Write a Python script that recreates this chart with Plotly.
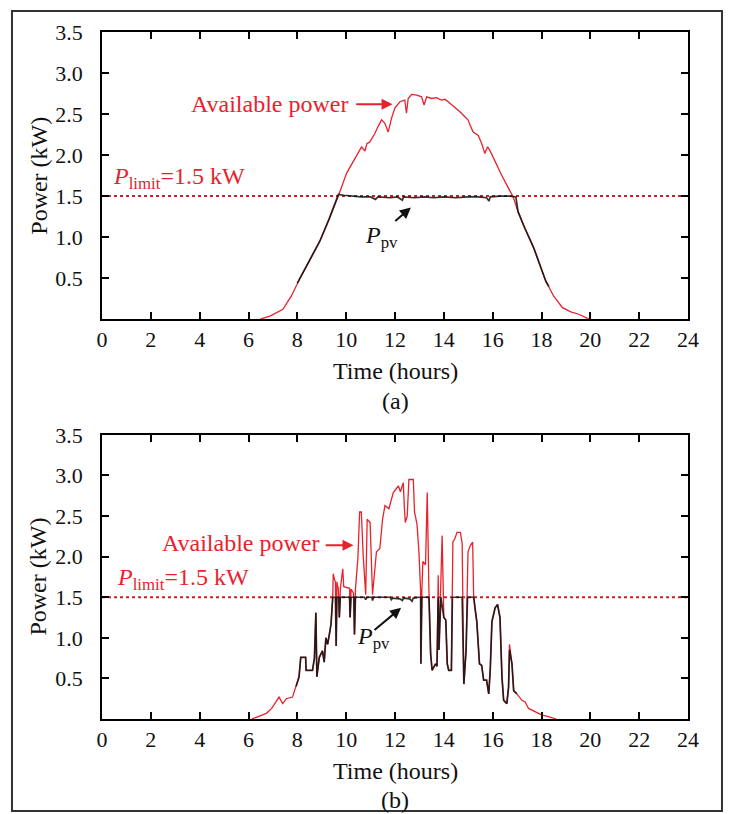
import plotly.graph_objects as go

# ---------------- data ----------------
limit_kw = 1.5
x_ticks = [0, 2, 4, 6, 8, 10, 12, 14, 16, 18, 20, 22, 24]
y_ticks = [0.5, 1.0, 1.5, 2.0, 2.5, 3.0, 3.5]

# (a) clear day
a_avail_h = [6.48, 6.9, 7.41, 7.75, 8.08, 8.5, 8.92, 9.3, 9.68, 10.02, 10.36, 10.63, 10.77, 10.85,
             10.97, 11.17, 11.31, 11.45, 11.58, 11.72, 11.86, 11.99, 12.2, 12.4, 12.47, 12.54,
             12.68, 12.89, 13.09, 13.19, 13.3, 13.5, 13.7, 13.9, 14.05, 14.17, 14.44, 14.65,
             14.85, 14.99, 15.07, 15.2, 15.41, 15.55, 15.68, 15.79, 15.88, 16.09, 16.36, 16.64,
             16.84, 17.04, 17.3, 17.68, 17.9, 18.18, 18.5, 18.86, 19.2, 19.53, 19.95]
a_avail_kw = [0, 0.04, 0.12, 0.28, 0.48, 0.71, 0.95, 1.22, 1.50, 1.78, 1.96, 2.10, 2.05, 2.14,
              2.16, 2.26, 2.35, 2.43, 2.39, 2.28, 2.45, 2.57, 2.65, 2.67, 2.51, 2.69,
              2.74, 2.73, 2.71, 2.61, 2.71, 2.69, 2.70, 2.67, 2.68, 2.65, 2.59, 2.53,
              2.47, 2.43, 2.37, 2.28, 2.24, 2.14, 2.02, 2.10, 2.06, 1.92, 1.76, 1.60,
              1.49, 1.31, 1.12, 0.87, 0.68, 0.46, 0.28, 0.14, 0.09, 0.06, 0]
a_pv_h = [8.0, 8.5, 8.92, 9.3, 9.62, 9.68, 9.9, 10.2, 10.6, 11.0, 11.2, 11.3, 11.8, 12.1, 12.3,
          12.35, 12.8, 13.2, 13.6, 14.0, 14.5, 15.0, 15.4, 15.75, 15.85, 15.9, 16.3, 16.7,
          16.95, 17.04, 17.3, 17.68, 17.9, 18.18, 18.3]
a_pv_kw = [0.44, 0.71, 0.95, 1.22, 1.47, 1.52, 1.51, 1.50, 1.49, 1.49, 1.46, 1.49, 1.48, 1.49, 1.45,
           1.49, 1.48, 1.49, 1.48, 1.49, 1.48, 1.49, 1.49, 1.48, 1.44, 1.49, 1.50, 1.50,
           1.49, 1.31, 1.12, 0.87, 0.68, 0.46, 0.40]

# (b) cloudy day
b_avail_h = [6.14, 6.4, 6.73, 6.95, 7.15, 7.25, 7.4, 7.55, 7.8, 7.95, 8.07, 8.14, 8.34, 8.36, 8.62,
             8.7, 8.76, 8.8, 8.9, 9.03, 9.1, 9.17, 9.24, 9.31, 9.38, 9.45, 9.47, 9.52, 9.56, 9.59,
             9.62, 9.68, 9.72, 9.76, 9.86, 9.9, 10.14, 10.16, 10.2, 10.3, 10.34, 10.38, 10.48,
             10.55, 10.62, 10.7, 10.8, 10.86, 10.98, 11.08, 11.17, 11.24, 11.38, 11.49, 11.59,
             11.75, 11.93, 12.14, 12.22, 12.34, 12.38, 12.42, 12.5, 12.57, 12.75, 12.8, 12.9,
             12.98, 13.05, 13.06, 13.1, 13.14, 13.25, 13.32, 13.39, 13.46, 13.52, 13.66, 13.72,
             13.77, 13.8, 13.93, 14.0, 14.08, 14.14, 14.2, 14.31, 14.37, 14.45, 14.54, 14.68,
             14.75, 14.82, 14.91, 14.99, 15.09, 15.18, 15.22, 15.29, 15.35, 15.46, 15.55, 15.63,
             15.75, 15.84, 15.9, 15.97, 16.1, 16.2, 16.3, 16.38, 16.45, 16.58, 16.65, 16.69,
             16.79, 16.86, 16.99, 17.2, 17.33, 17.47, 17.74, 18.0, 18.28, 18.6]
b_avail_kw = [0, 0.03, 0.07, 0.13, 0.23, 0.27, 0.19, 0.25, 0.27, 0.40, 0.52, 0.76, 0.76, 0.60, 0.60,
              0.75, 1.31, 0.52, 0.76, 0.84, 0.70, 1.00, 0.92, 1.04, 1.17, 1.50, 1.79, 1.72, 1.69, 0.90,
              1.69, 1.60, 1.25, 1.60, 1.85, 1.63, 1.61, 1.25, 1.60, 1.55, 1.04, 1.60, 1.98,
              2.55, 2.55, 2.00, 1.53, 2.46, 2.42, 1.53, 1.81, 2.06, 2.10, 2.46, 2.63,
              2.59, 2.79, 2.87, 2.80, 2.91, 2.63, 2.42, 2.50, 2.95, 2.95, 2.55, 2.40,
              2.06, 1.57, 0.68, 1.57, 1.94, 1.90, 2.79, 1.57, 0.80, 0.60, 0.68, 0.65,
              1.77, 0.85, 2.26, 1.25, 1.22, 0.68, 0.60, 0.60, 2.18, 2.22, 2.30, 2.30,
              2.16, 0.43, 0.84, 2.06, 2.14, 2.18, 1.53, 1.33, 1.20, 0.68, 0.66, 0.48,
              0.48, 0.31, 0.60, 1.20, 1.37, 1.41, 1.25, 0.52, 0.23, 0.19, 0.39, 0.92,
              0.68, 0.35, 0.31, 0.23, 0.21, 0.13, 0.09, 0.05, 0.03, 0]
b_pv_h = [7.95, 8.07, 8.14, 8.34, 8.36, 8.62, 8.7, 8.76, 8.8, 8.9, 9.03, 9.1, 9.17, 9.24, 9.31,
          9.38, 9.45, 9.56, 9.59, 9.62, 9.70, 9.72, 9.76, 10.14, 10.16, 10.2, 10.32, 10.34,
          10.38, 10.75, 10.8, 10.85, 11.05, 11.08, 11.12, 11.8, 11.85, 11.9, 12.2, 12.3,
          12.35, 12.6, 12.7, 12.75, 12.98, 13.05, 13.06, 13.1, 13.39, 13.46, 13.52, 13.66,
          13.72, 13.77, 13.8, 13.88, 14.0, 14.08, 14.14, 14.2, 14.31, 14.35, 14.75, 14.82,
          14.91, 14.97, 15.22, 15.29, 15.35, 15.46, 15.55, 15.63, 15.75, 15.84, 15.9, 15.97,
          16.1, 16.2, 16.3, 16.38, 16.45, 16.58, 16.65, 16.69, 16.79, 16.86, 16.99]
b_pv_kw = [0.40, 0.52, 0.76, 0.76, 0.60, 0.60, 0.75, 1.31, 0.52, 0.76, 0.84, 0.70, 1.00, 0.92, 1.04,
           1.17, 1.50, 1.50, 0.90, 1.50, 1.50, 1.25, 1.50, 1.50, 1.25, 1.50, 1.50, 1.04,
           1.50, 1.50, 1.47, 1.50, 1.50, 1.46, 1.50, 1.50, 1.47, 1.49, 1.48, 1.46,
           1.49, 1.48, 1.45, 1.49, 1.50, 1.50, 0.68, 1.50, 1.50, 0.80, 0.60, 0.68,
           0.65, 1.50, 0.85, 1.50, 1.25, 1.22, 0.68, 0.60, 0.60, 1.50, 1.50, 0.43,
           0.84, 1.50, 1.50, 1.33, 1.20, 0.68, 0.66, 0.48, 0.48, 0.31, 0.60, 1.20,
           1.37, 1.41, 1.25, 0.52, 0.23, 0.19, 0.39, 0.85, 0.68, 0.35, 0.31]

for _a, _b in [(a_avail_h, a_avail_kw), (a_pv_h, a_pv_kw), (b_avail_h, b_avail_kw), (b_pv_h, b_pv_kw)]:
    assert len(_a) == len(_b), (len(_a), len(_b))

# ---------------- styling ----------------
RED = "#e8222c"
DOT = "#c8202c"
BLACK = "#111111"
FONT = "Liberation Serif"

fig = go.Figure()

def add_panel(xa, ya, avail_h, avail_kw, pv_h, pv_kw):
    fig.add_trace(go.Scatter(x=[0, 24], y=[limit_kw, limit_kw], mode="lines",
                             line=dict(color=DOT, width=2, dash="dot"),
                             xaxis=xa, yaxis=ya, showlegend=False, hoverinfo="skip"))
    fig.add_trace(go.Scatter(x=avail_h, y=avail_kw, mode="lines",
                             line=dict(color=RED, width=1.3),
                             xaxis=xa, yaxis=ya, showlegend=False))
    fig.add_trace(go.Scatter(x=pv_h, y=pv_kw, mode="lines",
                             line=dict(color=BLACK, width=1.7),
                             xaxis=xa, yaxis=ya, showlegend=False, opacity=0.85))

add_panel("x", "y", a_avail_h, a_avail_kw, a_pv_h, a_pv_kw)
add_panel("x2", "y2", b_avail_h, b_avail_kw, b_pv_h, b_pv_kw)

axis_common = dict(showline=True, linecolor="black", linewidth=1.5, mirror="ticks",
                   ticks="inside", ticklen=7, tickwidth=1.5, tickcolor="black",
                   showgrid=False, zeroline=False,
                   tickfont=dict(family=FONT, size=22, color="#111"))

# the page adds an 8 px body margin; the plot area is placed to match the reference
fig.update_layout(
    width=715, height=806,
    margin=dict(l=94, r=35, t=22, b=95),
    paper_bgcolor="white", plot_bgcolor="white",
    font=dict(family=FONT, color="#111"),
    xaxis=dict(domain=[0, 1], anchor="y", range=[0, 24], tickvals=x_ticks, **axis_common),
    yaxis=dict(domain=[0.582, 1], anchor="x", range=[0, 3.5], tickvals=y_ticks,
               tickformat=".1f", ticklabelstandoff=13, **axis_common),
    xaxis2=dict(domain=[0, 1], anchor="y2", range=[0, 24], tickvals=x_ticks, **axis_common),
    yaxis2=dict(domain=[0, 0.4136], anchor="x2", range=[0, 3.5], tickvals=y_ticks,
                tickformat=".1f", ticklabelstandoff=13, **axis_common),
)

TF = dict(family=FONT, size=24, color="#111")
RF = dict(family=FONT, size=24, color=RED)
C = dict(xref="paper", yref="paper", showarrow=False, xanchor="center", yanchor="middle")

anns = [
    # axis titles and captions
    dict(text="Time (hours)", x=0.5, y=0.5065, font=TF, **C),
    dict(text="(a)", x=0.5, y=0.463, font=TF, **C),
    dict(text="Time (hours)", x=0.5, y=-0.0755, font=TF, **C),
    dict(text="(b)", x=0.5, y=-0.1176, font=TF, **C),
    dict(text="Power (kW)", x=-0.109, y=0.791, textangle=-90, font=TF, **C),
    dict(text="Power (kW)", x=-0.109, y=0.2075, textangle=-90, font=TF, **C),
    # panel (a) labels
    dict(text="Available power", x=10.2, y=2.62, xref="x", yref="y", xanchor="right",
         showarrow=False, font=RF),
    dict(x=11.9, y=2.62, ax=10.35, ay=2.62, xref="x", yref="y", axref="x", ayref="y",
         showarrow=True, arrowhead=2, arrowsize=1.1, arrowwidth=2, arrowcolor=RED, text=""),
    dict(text="<i>P</i><sub>limit</sub>=1.5 kW", x=0.35, y=1.72, xref="x", yref="y",
         xanchor="left", showarrow=False, font=RF),
    dict(text="<i>P</i><sub>pv</sub>", x=10.7, y=1.0, xref="x", yref="y", xanchor="left",
         showarrow=False, font=TF),
    dict(x=12.65, y=1.36, ax=11.95, ay=1.18, xref="x", yref="y", axref="x", ayref="y",
         showarrow=True, arrowhead=2, arrowsize=1.1, arrowwidth=2, arrowcolor=BLACK, text=""),
    # panel (b) labels
    dict(text="Available power", x=9.0, y=2.17, xref="x2", yref="y2", xanchor="right",
         showarrow=False, font=RF),
    dict(x=10.3, y=2.14, ax=9.1, ay=2.14, xref="x2", yref="y2", axref="x2", ayref="y2",
         showarrow=True, arrowhead=2, arrowsize=1.1, arrowwidth=2, arrowcolor=RED, text=""),
    dict(text="<i>P</i><sub>limit</sub>=1.5 kW", x=0.55, y=1.72, xref="x2", yref="y2",
         xanchor="left", showarrow=False, font=RF),
    dict(text="<i>P</i><sub>pv</sub>", x=10.35, y=1.0, xref="x2", yref="y2", xanchor="left",
         showarrow=False, font=TF),
    dict(x=12.25, y=1.37, ax=11.1, ay=1.08, xref="x2", yref="y2", axref="x2", ayref="y2",
         showarrow=True, arrowhead=2, arrowsize=1.1, arrowwidth=2, arrowcolor=BLACK, text=""),
]
fig.update_layout(annotations=anns)

# outer frame around the whole figure
fig.add_shape(type="rect", xref="paper", yref="paper",
              x0=-0.1536, x1=1.058, y0=-0.134, y1=1.0305,
              line=dict(color="#333", width=2), fillcolor="rgba(0,0,0,0)")

# keep the page from scrolling so the figure fills the window like the reference
fig.write_html("out.html",
               post_script="document.documentElement.style.overflow='hidden';"
                           "document.body.style.overflow='hidden';")
